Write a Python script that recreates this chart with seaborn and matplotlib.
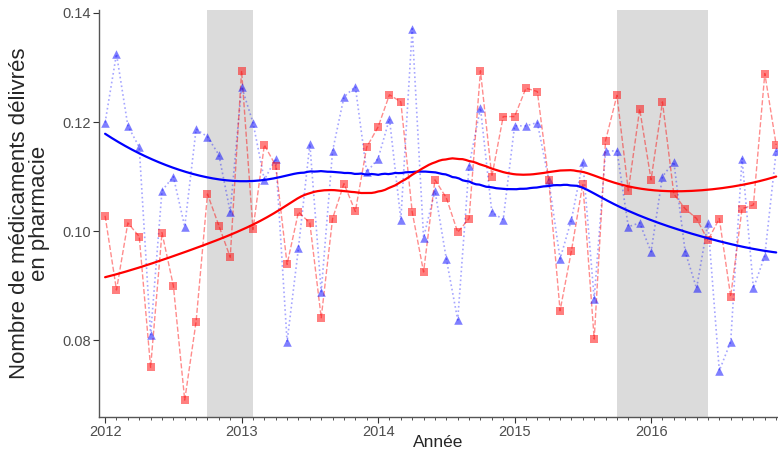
import numpy as np
import pandas as pd
import matplotlib
matplotlib.use("Agg")
import matplotlib.pyplot as plt
import seaborn as sns
from matplotlib.ticker import MultipleLocator, FormatStrFormatter

# mois de janvier 2012 à décembre 2016
annees = np.repeat(np.arange(2012, 2017), 12)
mois = np.tile(np.arange(1, 13), 5)

serie_bleue = [
    0.1199, 0.1325, 0.1193, 0.1154, 0.0810, 0.1074, 0.1100, 0.1008, 0.1187, 0.1173, 0.1140, 0.1035,
    0.1265, 0.1199, 0.1094, 0.1133, 0.0797, 0.0969, 0.1160, 0.0889, 0.1147, 0.1246, 0.1265, 0.1108,
    0.1133, 0.1206, 0.1021, 0.1371, 0.0988, 0.1074, 0.0949, 0.0837, 0.1120, 0.1226, 0.1035, 0.1021,
    0.1193, 0.1193, 0.1199, 0.1094, 0.0949, 0.1021, 0.1127, 0.0876, 0.1147, 0.1147, 0.1008, 0.1015,
    0.0962, 0.1100, 0.1127, 0.0962, 0.0895, 0.1015, 0.0744, 0.0797, 0.1133, 0.0895, 0.0955, 0.1147,
]
serie_rouge = [
    0.1028, 0.0892, 0.1015, 0.0990, 0.0750, 0.0997, 0.0900, 0.0690, 0.0834, 0.1068, 0.1010, 0.0952,
    0.1294, 0.1003, 0.1158, 0.1120, 0.0939, 0.1035, 0.1015, 0.0841, 0.1023, 0.1087, 0.1036, 0.1154,
    0.1191, 0.1250, 0.1237, 0.1035, 0.0925, 0.1094, 0.1061, 0.0998, 0.1023, 0.1294, 0.1100, 0.1210,
    0.1210, 0.1262, 0.1256, 0.1094, 0.0854, 0.0964, 0.1087, 0.0802, 0.1166, 0.1249, 0.1074, 0.1224,
    0.1094, 0.1237, 0.1068, 0.1041, 0.1023, 0.0983, 0.1023, 0.0880, 0.1041, 0.1048, 0.1289, 0.1158,
]

# périodes grisées (début, fin) en année décimale
periodes = [(2012.75, 2013.0833), (2015.75, 2016.4167)]

ANNEES_TICKS = [2012, 2013, 2014, 2015, 2016]


def loess(x, y, span=0.6, xs=None):
    """Lissage loess (degré 2, poids tricube)."""
    x = np.asarray(x, float)
    y = np.asarray(y, float)
    if xs is None:
        xs = np.linspace(x.min(), x.max(), 200)
    n = len(x)
    k = int(np.floor(span * n))
    out = []
    for x0 in xs:
        d = np.abs(x - x0)
        h = np.sort(d)[k - 1] * 1.0001
        w = np.clip(1 - (d / h) ** 3, 0, None) ** 3
        X = np.column_stack([np.ones(n), x - x0, (x - x0) ** 2])
        W = np.sqrt(w)
        beta = np.linalg.lstsq(X * W[:, None], y * W, rcond=None)[0]
        out.append(beta[0])
    return xs, np.array(out)


df = pd.DataFrame({
    "date": annees + (mois - 1) / 12,
    "bleu": serie_bleue,
    "rouge": serie_rouge,
})

sns.set_theme(style="ticks")
plt.rcParams["font.family"] = ["Liberation Sans", "DejaVu Sans"]

fig = plt.figure(figsize=(7.78, 4.5), dpi=100)
ax = fig.add_axes([0.1272, 0.0733, 0.8728, 0.9045])

for debut, fin in periodes:
    ax.axvspan(debut, fin, color="#DBDBDB", lw=0, zorder=0)

sns.lineplot(data=df, x="date", y="bleu", ax=ax, color="blue", alpha=0.35,
             linestyle=":", lw=1.2, zorder=2)
sns.lineplot(data=df, x="date", y="rouge", ax=ax, color="red", alpha=0.45,
             linestyle="--", lw=1.0, zorder=2)
sns.scatterplot(data=df, x="date", y="bleu", ax=ax, marker="^", color="blue",
                alpha=0.5, s=38, linewidth=0, zorder=3)
sns.scatterplot(data=df, x="date", y="rouge", ax=ax, marker="s", color="red",
                alpha=0.5, s=30, linewidth=0, zorder=3)

xs_b, ys_b = loess(df["date"], df["bleu"])
xs_r, ys_r = loess(df["date"], df["rouge"])
sns.lineplot(x=xs_b, y=ys_b, ax=ax, color="blue", lw=1.6, zorder=4)
sns.lineplot(x=xs_r, y=ys_r, ax=ax, color="red", lw=1.6, zorder=4)

ax.set_xlim(2011.955, 2016.93)
ax.set_ylim(0.0659, 0.14055)
ax.set_xticks(ANNEES_TICKS)
ax.set_xticklabels([str(a) for a in ANNEES_TICKS])
ax.xaxis.set_minor_locator(MultipleLocator(1 / 12))
ax.yaxis.set_major_locator(MultipleLocator(0.02))
ax.yaxis.set_major_formatter(FormatStrFormatter("%.2f"))

ax.tick_params(axis="both", which="major", length=4, width=0.8, color="#333333",
               labelsize=10.5, labelcolor="#4D4D4D", pad=1.5)
ax.tick_params(axis="x", which="minor", length=2.5, width=0.6, color="#333333")
for s in ["top", "right"]:
    ax.spines[s].set_visible(False)
for s in ["left", "bottom"]:
    ax.spines[s].set_color("#555555")
    ax.spines[s].set_linewidth(1.0)

ax.set_xlabel("Année", fontsize=12.5, labelpad=-2.5)
ax.set_ylabel("Nombre de médicaments délivrés\nen pharmacie", fontsize=16,
              labelpad=9, linespacing=0.95)

fig.savefig("out.png", dpi=100)
plt.close(fig)
